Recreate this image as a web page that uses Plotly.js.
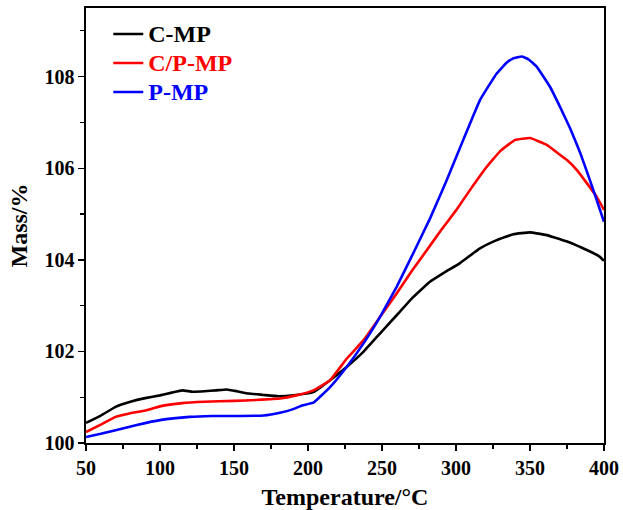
<!DOCTYPE html>
<html>
<head>
<meta charset="utf-8">
<script src="https://cdn.plot.ly/plotly-3.0.1.min.js"></script>
<style>html,body{margin:0;padding:0;background:#fff;}#chart{width:623px;height:510px;}</style>
</head>
<body>
<div id="chart"></div>
<script>
var seriesNames = ['C-MP', 'C/P-MP', 'P-MP'];

var cmpT = [50, 60, 70, 80, 90, 100, 108, 115, 122, 130, 138, 145, 152, 160, 170, 180, 190, 203.6, 214.9, 226.1, 237.4, 248.6, 259.9, 271.2, 282.4, 292, 302.7, 316.2, 327.5, 338.7, 350, 361.3, 370.3, 377, 384, 392, 397, 400];
var cmpM = [100.44, 100.6, 100.79, 100.9, 100.98, 101.04, 101.1, 101.15, 101.12, 101.13, 101.15, 101.17, 101.13, 101.08, 101.05, 101.02, 101.04, 101.11, 101.37, 101.66, 101.99, 102.39, 102.79, 103.19, 103.52, 103.72, 103.93, 104.25, 104.43, 104.56, 104.6, 104.54, 104.45, 104.38, 104.28, 104.16, 104.07, 103.98];

var cpmpT = [50, 60, 70, 80, 90, 100, 115, 130, 150, 165, 181, 192, 203.6, 214.9, 226.1, 237.4, 248.6, 260, 270, 280, 290, 300, 310, 320, 330, 340, 350, 361.3, 370, 375, 382, 388.5, 395, 400];
var cpmpM = [100.24, 100.4, 100.57, 100.65, 100.71, 100.8, 100.87, 100.9, 100.92, 100.94, 100.97, 101.04, 101.15, 101.37, 101.84, 102.24, 102.75, 103.27, 103.75, 104.2, 104.65, 105.08, 105.55, 106.0, 106.38, 106.62, 106.66, 106.51, 106.3, 106.18, 105.95, 105.67, 105.38, 105.09];

var pmpT = [50, 60, 70, 85, 100, 120, 135, 150, 170, 181, 190, 196, 203.6, 214.9, 226.1, 237.4, 248.6, 259.9, 271.2, 282.4, 293.7, 304.9, 316.2, 327.5, 334, 338.7, 344.4, 349, 354.5, 363.5, 370.3, 377, 384, 392, 400];
var pmpM = [100.13, 100.2, 100.28, 100.4, 100.5, 100.57, 100.59, 100.59, 100.6, 100.66, 100.74, 100.82, 100.88, 101.22, 101.66, 102.17, 102.75, 103.41, 104.15, 104.9, 105.74, 106.62, 107.49, 108.07, 108.3, 108.4, 108.44, 108.38, 108.22, 107.78, 107.34, 106.88, 106.33, 105.6, 104.83];

var xTicks = [50, 100, 150, 200, 250, 300, 350, 400];
var yTicks = [100, 102, 104, 106, 108];
var colors = ['#000000', '#ff0000', '#0000ff'];

var font = 'Liberation Serif';
var xs = [cmpT, cpmpT, pmpT];
var ys = [cmpM, cpmpM, pmpM];
var data = seriesNames.map(function (n, i) {
  return {
    x: xs[i], y: ys[i], type: 'scatter', mode: 'lines',
    name: '<span style="color:' + colors[i] + ';font-size:24px">' + n + '</span>',
    line: {color: colors[i], width: 2.6, shape: 'spline', smoothing: 0.3}
  };
});

var layout = {
  width: 623, height: 510,
  margin: {l: 86, r: 19, t: 8, b: 67},
  paper_bgcolor: '#fff', plot_bgcolor: '#fff',
  font: {family: font, color: '#000', size: 20, weight: 'bold'},
  showlegend: true,
  legend: {x: 0.043, y: 0.985, xanchor: 'left', yanchor: 'top', bgcolor: 'rgba(0,0,0,0)',
    font: {family: font, size: 20, weight: 'bold'}, tracegroupgap: 0},
  xaxis: {
    range: [50, 400], tickvals: xTicks, ticktext: xTicks.map(String),
    showline: true, linecolor: '#000', linewidth: 1.6, mirror: true,
    ticks: 'outside', ticklen: 6, tickwidth: 1.5, tickcolor: '#000',
    minor: {tickvals: [75, 125, 175, 225, 275, 325, 375], ticks: 'outside', ticklen: 4, tickwidth: 1.2, tickcolor: '#000'},
    showgrid: false, zeroline: false,
    title: {text: 'Temperature/°C', font: {family: font, size: 24, weight: 'bold'}, standoff: 12}
  },
  yaxis: {
    range: [100, 109.5], tickvals: yTicks, ticktext: yTicks.map(String),
    showline: true, linecolor: '#000', linewidth: 1.6, mirror: true,
    ticks: 'outside', ticklen: 6, tickwidth: 1.5, tickcolor: '#000',
    minor: {tickvals: [101, 103, 105, 107, 109], ticks: 'outside', ticklen: 4, tickwidth: 1.2, tickcolor: '#000'},
    showgrid: false, zeroline: false,
    title: {text: 'Mass/%', font: {family: font, size: 24, weight: 'bold'}, standoff: 10}
  }
};

Plotly.newPlot('chart', data, layout, {displayModeBar: false, staticPlot: true});
</script>
</body>
</html>
